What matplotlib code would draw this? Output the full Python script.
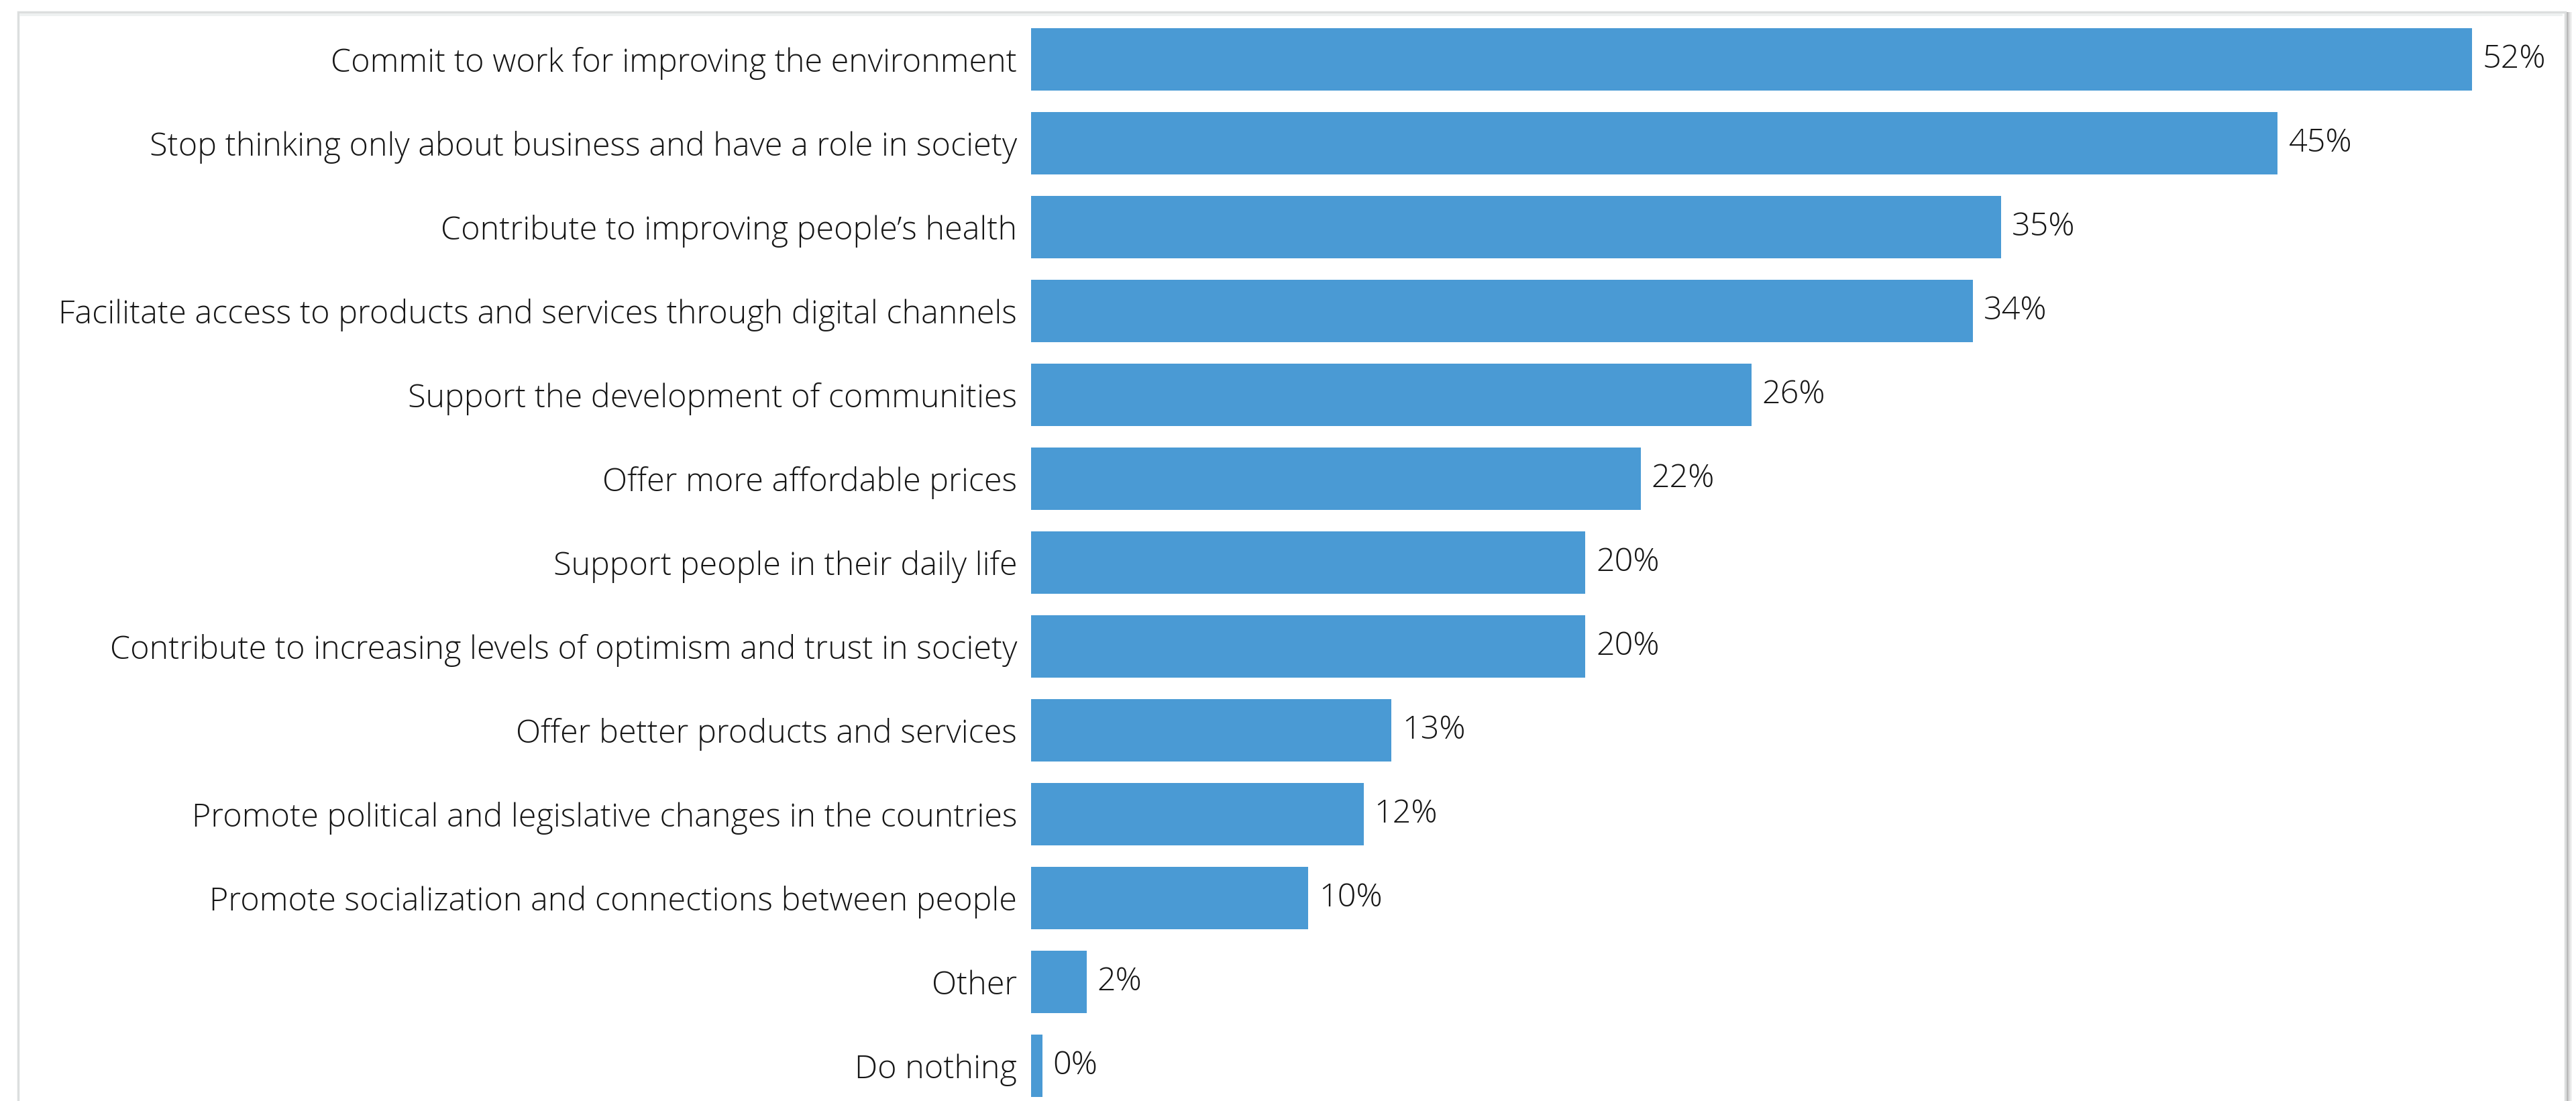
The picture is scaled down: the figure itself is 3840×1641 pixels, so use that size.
import matplotlib
matplotlib.use("Agg")
import matplotlib.pyplot as plt
from matplotlib.patches import Rectangle

categories = [
    "Commit to work for improving the environment",
    "Stop thinking only about business and have a role in society",
    "Contribute to improving people\u2019s health",
    "Facilitate access to products and services through digital channels",
    "Support the development of communities",
    "Offer more affordable prices",
    "Support people in their daily life",
    "Contribute to increasing levels of optimism and trust in society",
    "Offer better products and services",
    "Promote political and legislative changes in the countries",
    "Promote socialization and connections between people",
    "Other",
    "Do nothing",
]
shares = [52, 45, 35, 34, 26, 22, 20, 20, 13, 12, 10, 2, 0.4]

W, H, DPI = 3841, 1641, 100
BAR_COLOR = "#4a9ad4"
TEXT_COLOR = "#161616"
FONT = ["Open Sans", "DejaVu Sans"]
FONT_SIZE = 34.9

fig = plt.figure(figsize=(W / DPI, H / DPI), dpi=DPI)
fig.patch.set_facecolor("white")

# card frame with soft shadow on the right
for k, g in enumerate(["#9a9a9a", "#b5b5b5", "#cfcfcf", "#e3e3e3", "#f0f0f0"]):
    fig.patches.append(Rectangle(((3824 + 2 * k) / W, 0), 2 / W, 1 - 18 / H,
                                 transform=fig.transFigure, facecolor=g,
                                 edgecolor="none", zorder=0))
fig.patches.append(Rectangle((27 / W, -0.01), (3824 - 27) / W, 1.01 - 18 / H,
                             transform=fig.transFigure, facecolor="white",
                             edgecolor="#dcdede", linewidth=2.5, zorder=1))
fig.patches.append(Rectangle((29 / W, 1 - 24 / H), (3820 - 29) / W, 4 / H,
                             transform=fig.transFigure, facecolor="#eef1f1",
                             edgecolor="none", zorder=1))

left_px, right_px = 1537, 3805
px_per_pct = 41.3
ax = fig.add_axes([left_px / W, 0, (right_px - left_px) / W, 1])
ax.set_facecolor("none")
ax.set_zorder(2)

ypos = list(range(len(categories)))
ax.barh(ypos, shares, height=0.744, color=BAR_COLOR, edgecolor="none")

ax.set_xlim(0, (right_px - left_px) / px_per_pct)
ax.set_ylim((H - 88.5) / 125, -88.5 / 125)

ax.set_yticks(ypos)
ax.set_yticklabels(categories, fontsize=FONT_SIZE, color=TEXT_COLOR, family=FONT,
                   fontweight="light")
ax.tick_params(axis="y", length=0, pad=15)
ax.set_xticks([])
for s in ax.spines.values():
    s.set_visible(False)

for y, v in zip(ypos, shares):
    ax.annotate(f"{v:.0f}%", xy=(v, y), xytext=(11.5, 0), textcoords="offset points",
                va="center", ha="left", fontsize=FONT_SIZE, color=TEXT_COLOR,
                family=FONT, fontweight="light")

fig.savefig("out.png", dpi=DPI)
